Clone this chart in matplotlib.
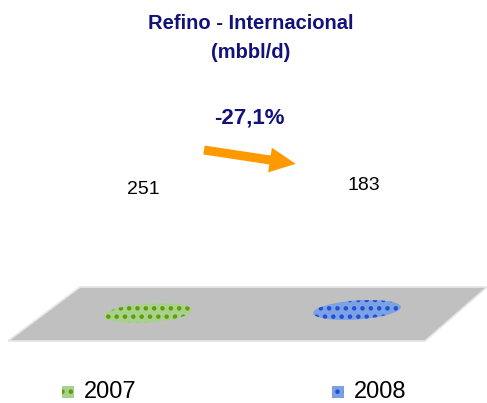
import matplotlib.pyplot as plt
from matplotlib.patches import Polygon, Ellipse, Rectangle, FancyArrow

# dados
anos = ['2007', '2008']
valores = [251, 183]
variacao = '-27,1%'
titulo = 'Refino - Internacional\n(mbbl/d)'

cores_fundo = ['#a9d18e', '#7da2e3']
cores_ponto = ['#5e9e00', '#1f4fd6']

plt.rcParams['hatch.linewidth'] = 2.0

fig = plt.figure(figsize=(4.87, 4.03), dpi=100)
ax = fig.add_axes([0, 0, 1, 1])
ax.set_xlim(0, 487)
ax.set_ylim(403, 0)
ax.axis('off')

# titulo
ax.text(251, 38, titulo, ha='center', va='center', fontsize=14.5, fontweight='bold',
        color='#12127a', linespacing=1.7, family='Liberation Sans')

# piso cinza (perspectiva)
piso = Polygon([(80, 287), (487, 287), (425, 341), (8, 341)], closed=True,
               facecolor='#c0c0c0', edgecolor='#e6e6e6', linewidth=1.2)
ax.add_patch(piso)

xs = [148, 357]
for i, ano in enumerate(anos):
    # base da coluna (elipse pontilhada)
    ax.add_patch(Ellipse((xs[i], 313 - 3 * i), 88, 19, angle=-4,
                         facecolor=cores_fundo[i], edgecolor='none'))
    ax.add_patch(Ellipse((xs[i], 313 - 3 * i), 88, 19, angle=-4,
                         facecolor='none', edgecolor=cores_ponto[i],
                         hatch='..', linewidth=0))
    # rotulo de valor
    ax.text(xs[i] - 5 + 12 * i, 190 - 4 * i, str(valores[i]), ha='center', va='center',
            fontsize=14, color='black', family='Liberation Sans')

# variacao
ax.text(249, 118, variacao, ha='center', va='center', fontsize=16, fontweight='bold',
        color='#12127a', family='Liberation Sans')
ax.add_patch(FancyArrow(204, 150, 66, 10, width=9, head_width=25, head_length=26,
                        length_includes_head=False, color='#ff9900', linewidth=0))

# legenda
leg_x = [68, 338]
for i, ano in enumerate(anos):
    ax.add_patch(Rectangle((leg_x[i] - 6, 386), 12, 12, facecolor=cores_fundo[i],
                           edgecolor='none'))
    ax.add_patch(Rectangle((leg_x[i] - 6, 386), 12, 12, facecolor='none',
                           edgecolor=cores_ponto[i], hatch='..', linewidth=0))
    ax.text(leg_x[i] + 16, 392, ano, ha='left', va='center', fontsize=17,
            color='black', family='Liberation Sans')

fig.savefig('out.png', dpi=100)
